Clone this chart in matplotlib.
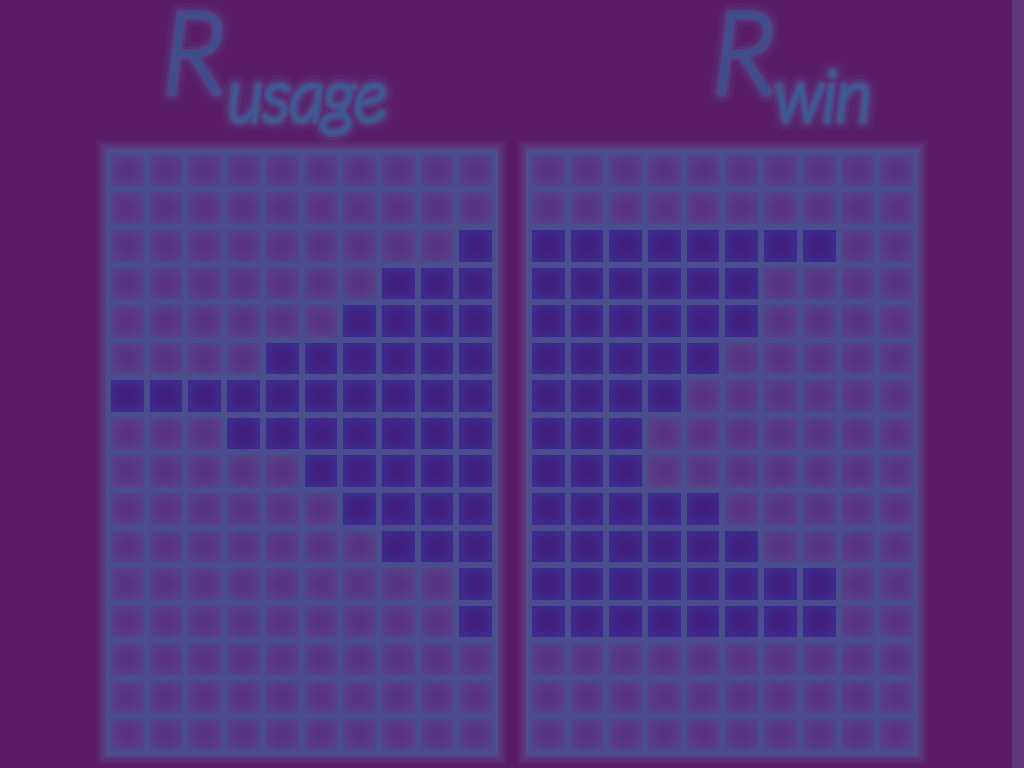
import numpy as np
import matplotlib
matplotlib.use("Agg")
import matplotlib.pyplot as plt
from matplotlib.colors import ListedColormap
from matplotlib.patches import Rectangle
import matplotlib.patheffects as pe

# ---- data: dark-cell spans per row (start col, end col inclusive), 16 rows x 10 cols ----
n_rows = 16
n_cols = 10
usage_spans = [None, None, (9, 9), (7, 9), (6, 9), (4, 9), (0, 9), (3, 9),
               (5, 9), (6, 9), (7, 9), (9, 9), (9, 9), None, None, None]
win_spans = [None, None, (0, 7), (0, 5), (0, 5), (0, 4), (0, 3), (0, 2),
             (0, 2), (0, 4), (0, 5), (0, 7), (0, 7), None, None, None]
titles = [("R", "usage"), ("R", "win")]


def to_matrix(spans):
    m = np.zeros((n_rows, n_cols))
    for r, s in enumerate(spans):
        if s is not None:
            m[r, s[0]:s[1] + 1] = 1
    return m


mats = [to_matrix(usage_spans), to_matrix(win_spans)]

BG = "#5a1c66"
LIGHT = "#56428c"
DARK = "#3e2b8c"
EDGE = "#4a4e8e"
GLOW = "#5a4b8f"

fig = plt.figure(figsize=(10.24, 7.68), dpi=100, facecolor=BG)

# right edge lighter stripe
fig.patches.append(Rectangle((1012 / 1024, 0), 12 / 1024, 1, transform=fig.transFigure,
                             facecolor="#60377a", edgecolor="none", zorder=0))

cmap = ListedColormap([LIGHT, DARK])
positions = [(106, 497), (527, 918)]
top_px, bot_px = 150, 755

for k, (mat, (x0, x1)) in enumerate(zip(mats, positions)):
    ax = fig.add_axes([x0 / 1024, (768 - bot_px) / 768, (x1 - x0) / 1024, (bot_px - top_px) / 768])
    ax.set_facecolor("none")
    ax.set_xlim(-0.05, n_cols + 0.05)
    ax.set_ylim(n_rows + 0.05, -0.05)
    ax.axis("off")
    # soft glow around grid
    for i, a in enumerate([0.12, 0.18, 0.25, 0.35, 0.5]):
        pad = 0.32 - i * 0.06
        ax.add_patch(Rectangle((-pad, -pad), n_cols + 2 * pad, n_rows + 2 * pad,
                               facecolor=GLOW, edgecolor="none", alpha=a,
                               clip_on=False, zorder=0))
    ax.pcolormesh(np.arange(n_cols + 1), np.arange(n_rows + 1), mat, cmap=cmap,
                  vmin=0, vmax=1, edgecolors=EDGE, linewidth=3.0, zorder=1)
    # soft darker centres
    cx, cy = np.meshgrid(np.arange(n_cols) + 0.5, np.arange(n_rows) + 0.5)
    dark_flag = mat.ravel() > 0
    for s, a in [(600, 0.10), (380, 0.13), (200, 0.18), (80, 0.22)]:
        ax.scatter(cx.ravel()[~dark_flag], cy.ravel()[~dark_flag], s=s, c="#5a2478",
                   alpha=a, edgecolors="none", zorder=2)
        ax.scatter(cx.ravel()[dark_flag], cy.ravel()[dark_flag], s=s, c="#441570",
                   alpha=a, edgecolors="none", zorder=2)

# titles with soft glow
title_pos = [(163, 228), (713, 775)]
for (big, sub), (xb, xs) in zip(titles, title_pos):
    for txt, x, y, size, col in [(big, xb, 92, 80, "#3b4f8e"), (sub, xs, 120, 50, "#3c5a93")]:
        glow = [pe.withStroke(linewidth=16, foreground="#4f5f9e", alpha=0.12),
                pe.withStroke(linewidth=10, foreground="#4f66a4", alpha=0.2),
                pe.withStroke(linewidth=6, foreground="#4a6aa6", alpha=0.35),
                pe.withStroke(linewidth=2.5, foreground=col),
                pe.Normal()]
        fig.text(x / 1024, 1 - y / 768, txt, fontsize=size, family="Lato", style="italic",
                 weight="light", color=col, ha="left", va="baseline", path_effects=glow)

fig.savefig("out.png", dpi=100, facecolor=BG)
